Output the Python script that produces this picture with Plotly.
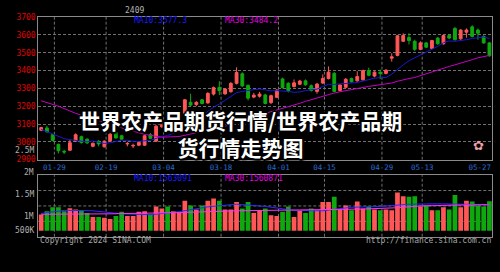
import plotly.graph_objects as go

# ---------------- data ----------------
dates = ["01-24","01-25","01-26","01-29","01-30","01-31","02-01","02-02","02-05","02-06",
         "02-07","02-08","02-19","02-20","02-21","02-22","02-23","02-26","02-27","02-28",
         "02-29","03-01","03-04","03-05","03-06","03-07","03-08","03-11","03-12","03-13",
         "03-14","03-15","03-18","03-19","03-20","03-21","03-22","03-25","03-26","03-27",
         "03-28","03-29","04-01","04-02","04-03","04-08","04-09","04-10","04-11","04-12",
         "04-15","04-16","04-17","04-18","04-19","04-22","04-23","04-24","04-25","04-26",
         "04-29","04-30","05-06","05-07","05-08","05-09","05-10","05-13","05-14","05-15",
         "05-16","05-17","05-20","05-21","05-22","05-23","05-24","05-27","05-28"]

opens = [3065,3078,3040,2986,2947,2953,3004,3029,3015,2975,
         3003,2972,3004,3052,3034,2988,2977,2981,2981,3040,
         3004,3085,3112,3095,3130,3160,3222,3209,3236,3218,
         3268,3305,3269,3281,3328,3382,3317,3251,3256,3263,
         3220,3250,3353,3328,3310,3323,3342,3315,3283,3330,
         3355,3384,3288,3306,3355,3342,3348,3400,3369,3390,
         3384,3469,3485,3564,3585,3564,3519,3555,3524,3582,
         3550,3596,3636,3578,3615,3645,3627,3591,3555]
highs = [3084,3090,3045,2990,2955,3012,3048,3035,3020,2996,
         3010,3008,3050,3058,3040,3000,2990,3000,3040,3050,
         3095,3118,3120,3138,3158,3240,3270,3228,3240,3278,
         3310,3340,3300,3335,3418,3390,3322,3275,3280,3270,
         3265,3295,3360,3335,3350,3348,3350,3322,3330,3378,
         3423,3392,3325,3358,3360,3396,3405,3416,3396,3405,
         3408,3497,3598,3609,3609,3573,3564,3560,3572,3588,
         3600,3602,3645,3632,3636,3654,3636,3598,3560]
lows = [3060,3052,3003,2935,2932,2948,3000,2990,2988,2970,
        2975,2968,3000,3018,3010,2975,2965,2976,2978,3015,
        3000,3078,3088,3090,3125,3155,3200,3200,3210,3215,
        3260,3262,3265,3276,3322,3308,3232,3245,3248,3210,
        3212,3245,3300,3277,3305,3318,3315,3282,3270,3325,
        3350,3278,3282,3300,3332,3338,3342,3368,3362,3352,
        3378,3450,3480,3560,3546,3510,3514,3526,3520,3545,
        3545,3576,3568,3572,3584,3586,3573,3550,3478]
closes = [3080,3056,3007,2950,2943,2995,3040,2996,2994,2992,
          2988,3004,3043,3022,3015,2991,2980,2997,3034,3020,
          3088,3110,3095,3130,3150,3236,3206,3222,3215,3272,
          3304,3287,3296,3328,3389,3314,3245,3262,3268,3215,
          3259,3290,3304,3287,3331,3341,3320,3288,3324,3355,
          3391,3283,3319,3351,3337,3366,3400,3373,3391,3384,
          3402,3477,3595,3596,3568,3519,3555,3531,3568,3550,
          3596,3582,3573,3627,3627,3591,3609,3555,3483]

ma10 = [3070,3058,3045,3030,3018,3012,3008,3004,3000,3005,
        2996,2991,2995,3002,3009,3009,3003,3003,3007,3009,
        3019,3030,3035,3046,3060,3084,3107,3129,3147,3172,
        3194,3212,3232,3252,3276,3283,3287,3291,3297,3291,
        3286,3287,3287,3283,3278,3280,3288,3290,3296,3310,
        3323,3322,3324,3330,3331,3333,3341,3350,3357,3360,
        3361,3380,3408,3432,3455,3471,3486,3502,3520,3536,
        3556,3566,3564,3567,3573,3580,3585,3588,3579]

ma30_idx = [0,3,6,9,12,15,18,21,24,27] + list(range(29, 79))
ma30 = [3230,3200,3160,3128,3098,3068,3042,3026,3030,3050,
        3062,3070,3078,3087,3100,3115,3125,3132,3141,3150,
        3158,3167,3176,3185,3194,3204,3216,3227,3237,3247,
        3258,3268,3274,3281,3288,3295,3299,3305,3311,3316,
        3320,3323,3330,3340,3349,3355,3361,3372,3381,3391,
        3402,3413,3423,3432,3443,3453,3461,3471,3480,3485]

# volume in millions
volume = [1.035,1.11,1.20,1.20,1.11,1.18,1.15,1.13,1.07,0.98,
          0.98,0.96,0.93,1.00,1.10,1.00,1.00,1.10,1.11,1.04,
          1.22,1.17,1.22,1.11,1.07,1.35,1.24,1.15,1.24,1.35,
          1.40,1.35,1.15,1.15,1.32,1.17,1.32,1.07,1.13,1.17,
          1.02,1.00,1.10,1.22,0.98,1.13,1.07,1.17,1.13,1.32,
          1.32,1.44,1.15,1.24,1.13,1.33,1.17,1.22,1.15,1.13,
          1.15,1.13,1.54,1.45,1.44,1.45,1.22,1.24,1.13,1.13,
          1.20,1.15,1.48,1.20,1.35,1.33,1.24,1.22,1.34]
vma10_idx = [0,4,9,14,19,24,29,34,39,44,49,54,59,64,69,74,78]
vma10 = [1.06,1.13,1.12,1.05,1.03,1.10,1.21,1.27,1.22,1.13,1.12,1.20,1.22,1.27,1.28,1.26,1.26]
vma30_idx = [0,12,24,34,45,56,62,66,72,78]
vma30 = [1.04,1.05,1.08,1.12,1.14,1.16,1.19,1.23,1.25,1.26]

tick_dates = ["01-29","02-19","03-04","03-18","04-01","04-15","04-29","05-13","05-27"]
grid_dates = tick_dates[:-1]
price_ticks = [2900,3000,3100,3200,3300,3400,3500,3600,3700]
vol_labels = [("2.5M", 2.5), ("2M", 2.0), ("1.5M", 1.5), ("1M", 1.0)]

title_line1 = "世界农产品期货行情/世界农产品期"
title_line2 = "货行情走势图"

# ---------------- styles ----------------
W, H = 500, 272
RED = "#ff5757"
GREEN = "#0fa80f"
MONO = "DejaVu Sans Mono"
GRID = "#707070"
FRAME = "#8a8a8a"
VOL_BASE = 0.663
VOL_RANGE = [0.526, 1.936]
X_OFF = 0.7  # grid line sits a little left of the candle

idx = list(range(len(dates)))
px = lambda v: v / W
py = lambda v: 1 - v / H

x_dom = [px(38.3), px(492.3)]
price_dom = [py(161), py(13.5)]
vol_dom = [py(240.7), py(177)]

def vol_to_paper(v):
    return vol_dom[0] + (v - VOL_RANGE[0]) / (VOL_RANGE[1] - VOL_RANGE[0]) * (vol_dom[1] - vol_dom[0])

fig = go.Figure()

fig.add_trace(go.Candlestick(
    x=idx, open=opens, high=highs, low=lows, close=closes,
    increasing=dict(line=dict(color=RED, width=1), fillcolor=RED),
    decreasing=dict(line=dict(color=GREEN, width=1), fillcolor=GREEN),
    whiskerwidth=0, showlegend=False, hoverinfo="skip", xaxis="x", yaxis="y"))

fig.add_trace(go.Scatter(x=idx, y=ma10, mode="lines", line=dict(color="#1818d8", width=1),
                         showlegend=False, hoverinfo="skip", xaxis="x", yaxis="y"))
fig.add_trace(go.Scatter(x=ma30_idx, y=ma30, mode="lines", line=dict(color="#c400c4", width=1),
                         showlegend=False, hoverinfo="skip", xaxis="x", yaxis="y"))

vol_colors = [RED if c >= o else GREEN for o, c in zip(opens, closes)]
fig.add_trace(go.Bar(x=idx, y=[v - VOL_BASE for v in volume], base=VOL_BASE,
                     marker=dict(color=vol_colors, line=dict(width=0)),
                     showlegend=False, hoverinfo="skip", xaxis="x2", yaxis="y2"))
fig.add_trace(go.Scatter(x=vma10_idx, y=vma10, mode="lines", line=dict(color="#2a2aff", width=1),
                         showlegend=False, hoverinfo="skip", xaxis="x2", yaxis="y2"))
fig.add_trace(go.Scatter(x=vma30_idx, y=vma30, mode="lines", line=dict(color="#ff30ff", width=1),
                         showlegend=False, hoverinfo="skip", xaxis="x2", yaxis="y2"))

shapes = []
for d in grid_dates:
    gx = dates.index(d) - X_OFF
    for yr in ("y domain", "y2 domain"):
        shapes.append(dict(type="line", xref="x", yref=yr, x0=gx, x1=gx, y0=0, y1=1,
                           line=dict(color=GRID, width=1, dash="3px,2px"), layer="below"))
for f in (0.25, 0.5, 0.75):
    shapes.append(dict(type="line", xref="x2 domain", yref="y2 domain", x0=0, x1=1, y0=f, y1=f,
                       line=dict(color=GRID, width=1, dash="3px,2px"), layer="below"))

ann = []
def label(text, x, y, color, size=8, xanchor="left", family=MONO):
    ann.append(dict(text=text, x=x, y=y, xref="paper", yref="paper", showarrow=False,
                    xanchor=xanchor, yanchor="middle",
                    font=dict(family=family, size=size, color=color)))

label("2409", px(134), py(7), "#b4b4b4", xanchor="center")
label("MA10:3577.3", px(131.7), py(17), "#1a1aff")
label("MA30:3484.2", px(222.7), py(17), "#e000e0")
label("MA10:1563091", px(132), py(180.5), "#1a1aff")
label("MA30:1560871", px(223), py(180.5), "#e000e0")
label("Copyright 2024 SINA.COM", px(37.5), py(244.5), "#a8a8a8")
label("http://finance.sina.com.cn", px(492.5), py(244.5), "#a8a8a8", xanchor="right")
for t, v in vol_labels:
    label(t, px(35.5), vol_to_paper(v), "#b0b0b0", xanchor="right")
label("500K", px(35.5), py(234.3), "#b0b0b0", xanchor="right")

# small sina logo mark
label("✿", px(478), py(146), "#f0a0a8", size=13, xanchor="center", family="DejaVu Sans")

shadow = ("2px 0 0 #000, -2px 0 0 #000, 0 2px 0 #000, 0 -2px 0 #000, "
          "1px 1px 0 #000, -1px -1px 0 #000, 1px -1px 0 #000, -1px 1px 0 #000, 2px 2px 2px #000")
ann.append(dict(text=title_line1 + "<br>" + title_line2, x=px(240), y=py(133.5),
                xref="paper", yref="paper", showarrow=False, align="center",
                xanchor="center", yanchor="middle",
                font=dict(family="Noto Sans CJK SC", size=21, color="#ffffff",
                          weight="bold", shadow=shadow)))

axis_common = dict(showline=True, mirror=True, linecolor=FRAME, linewidth=1, zeroline=False, ticks="")

fig.update_layout(
    width=W, height=H, margin=dict(l=0, r=0, t=0, b=0),
    paper_bgcolor="#000000", plot_bgcolor="#000000",
    bargap=0.18, showlegend=False,
    xaxis=dict(domain=x_dom, range=[-0.5, 78.5], anchor="y",
               tickvals=[dates.index(d) - X_OFF for d in tick_dates], ticktext=tick_dates,
               tickfont=dict(family=MONO, size=7.5, color="#2a6bd1"),
               showgrid=False, rangeslider=dict(visible=False), **axis_common),
    yaxis=dict(domain=price_dom, range=[2900, 3700], anchor="x", tickvals=price_ticks,
               tickfont=dict(family=MONO, size=8, color="#e00000"),
               showgrid=True, gridcolor=GRID, griddash="3px,2px", gridwidth=1, **axis_common),
    xaxis2=dict(domain=x_dom, range=[-0.5, 78.5], anchor="y2", matches="x",
                showticklabels=False, showgrid=False, **axis_common),
    yaxis2=dict(domain=vol_dom, range=VOL_RANGE, anchor="x2",
                showticklabels=False, showgrid=False, **axis_common),
    shapes=shapes, annotations=ann,
)

fig.write_html("out.html")
